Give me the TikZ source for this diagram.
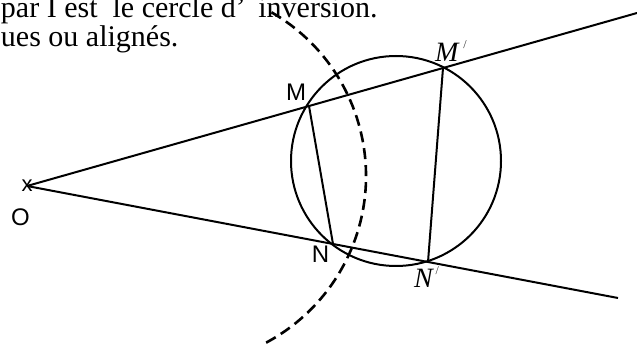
\documentclass[tikz,border=0pt]{standalone}
\usepackage{fontspec}
\setmainfont{Liberation Serif}
\setsansfont{Liberation Sans}
\usetikzlibrary{calc}

\begin{document}
\begin{tikzpicture}[
  x=1pt,y=-1pt,line width=2pt,
  txt/.style={anchor=base west,inner sep=0pt,font=\fontsize{30}{30}\selectfont},
  lbl/.style={inner sep=0pt,font=\sffamily\fontsize{24}{24}\selectfont},
  ilbl/.style={anchor=base west,inner sep=0pt,font=\itshape\fontsize{28}{28}\selectfont},
  inv/.style={line width=2.6pt,dash pattern=on 11pt off 6pt}]
\useasboundingbox (0,0) rectangle (637,344);
\node[txt] (line1) at (0,17.5) {par I est\ \ le cercle d'\, inversion.};
\node[txt] (line2) at (0,47) {ues ou alignés.};
\coordinate (O) at (27,186);
\coordinate (U) at (637,13);
\coordinate (L) at (618,298);
\coordinate (M) at (309,106);
\coordinate (Mp) at (443,68);
\coordinate (N) at (333,244);
\coordinate (Np) at (428,262);
\coordinate (Cc) at (396,161);
\coordinate (Ci) at (177,176);
\node[inner sep=0pt,font=\sffamily\fontsize{22}{22}\selectfont] (Ox) at (O) {x};
\node[lbl] (Olbl) at (20.5,217) {O};
\node[lbl] (Mlbl) at (296,92.5) {M};
\node[lbl] (Nlbl) at (320.5,254.5) {N};
\node[ilbl] (Mplbl) at (434,62) {M\hspace{5pt}\raisebox{13pt}{\upshape\color{black!80}\fontsize{12}{12}\selectfont /}};
\node[ilbl] (Nplbl) at (413,288) {N\hspace{3pt}\raisebox{13pt}{\upshape\color{black!80}\fontsize{12}{12}\selectfont /}};
\draw (O) -- (U);
\draw (O) -- (L);
\draw (Cc) circle[radius=105];
\draw (M) -- (N);
\draw (Mp) -- (Np);
\draw[inv] (Ci) ++(-60:189) arc[start angle=-60,end angle=66,radius=189];
\end{tikzpicture}
\end{document}
